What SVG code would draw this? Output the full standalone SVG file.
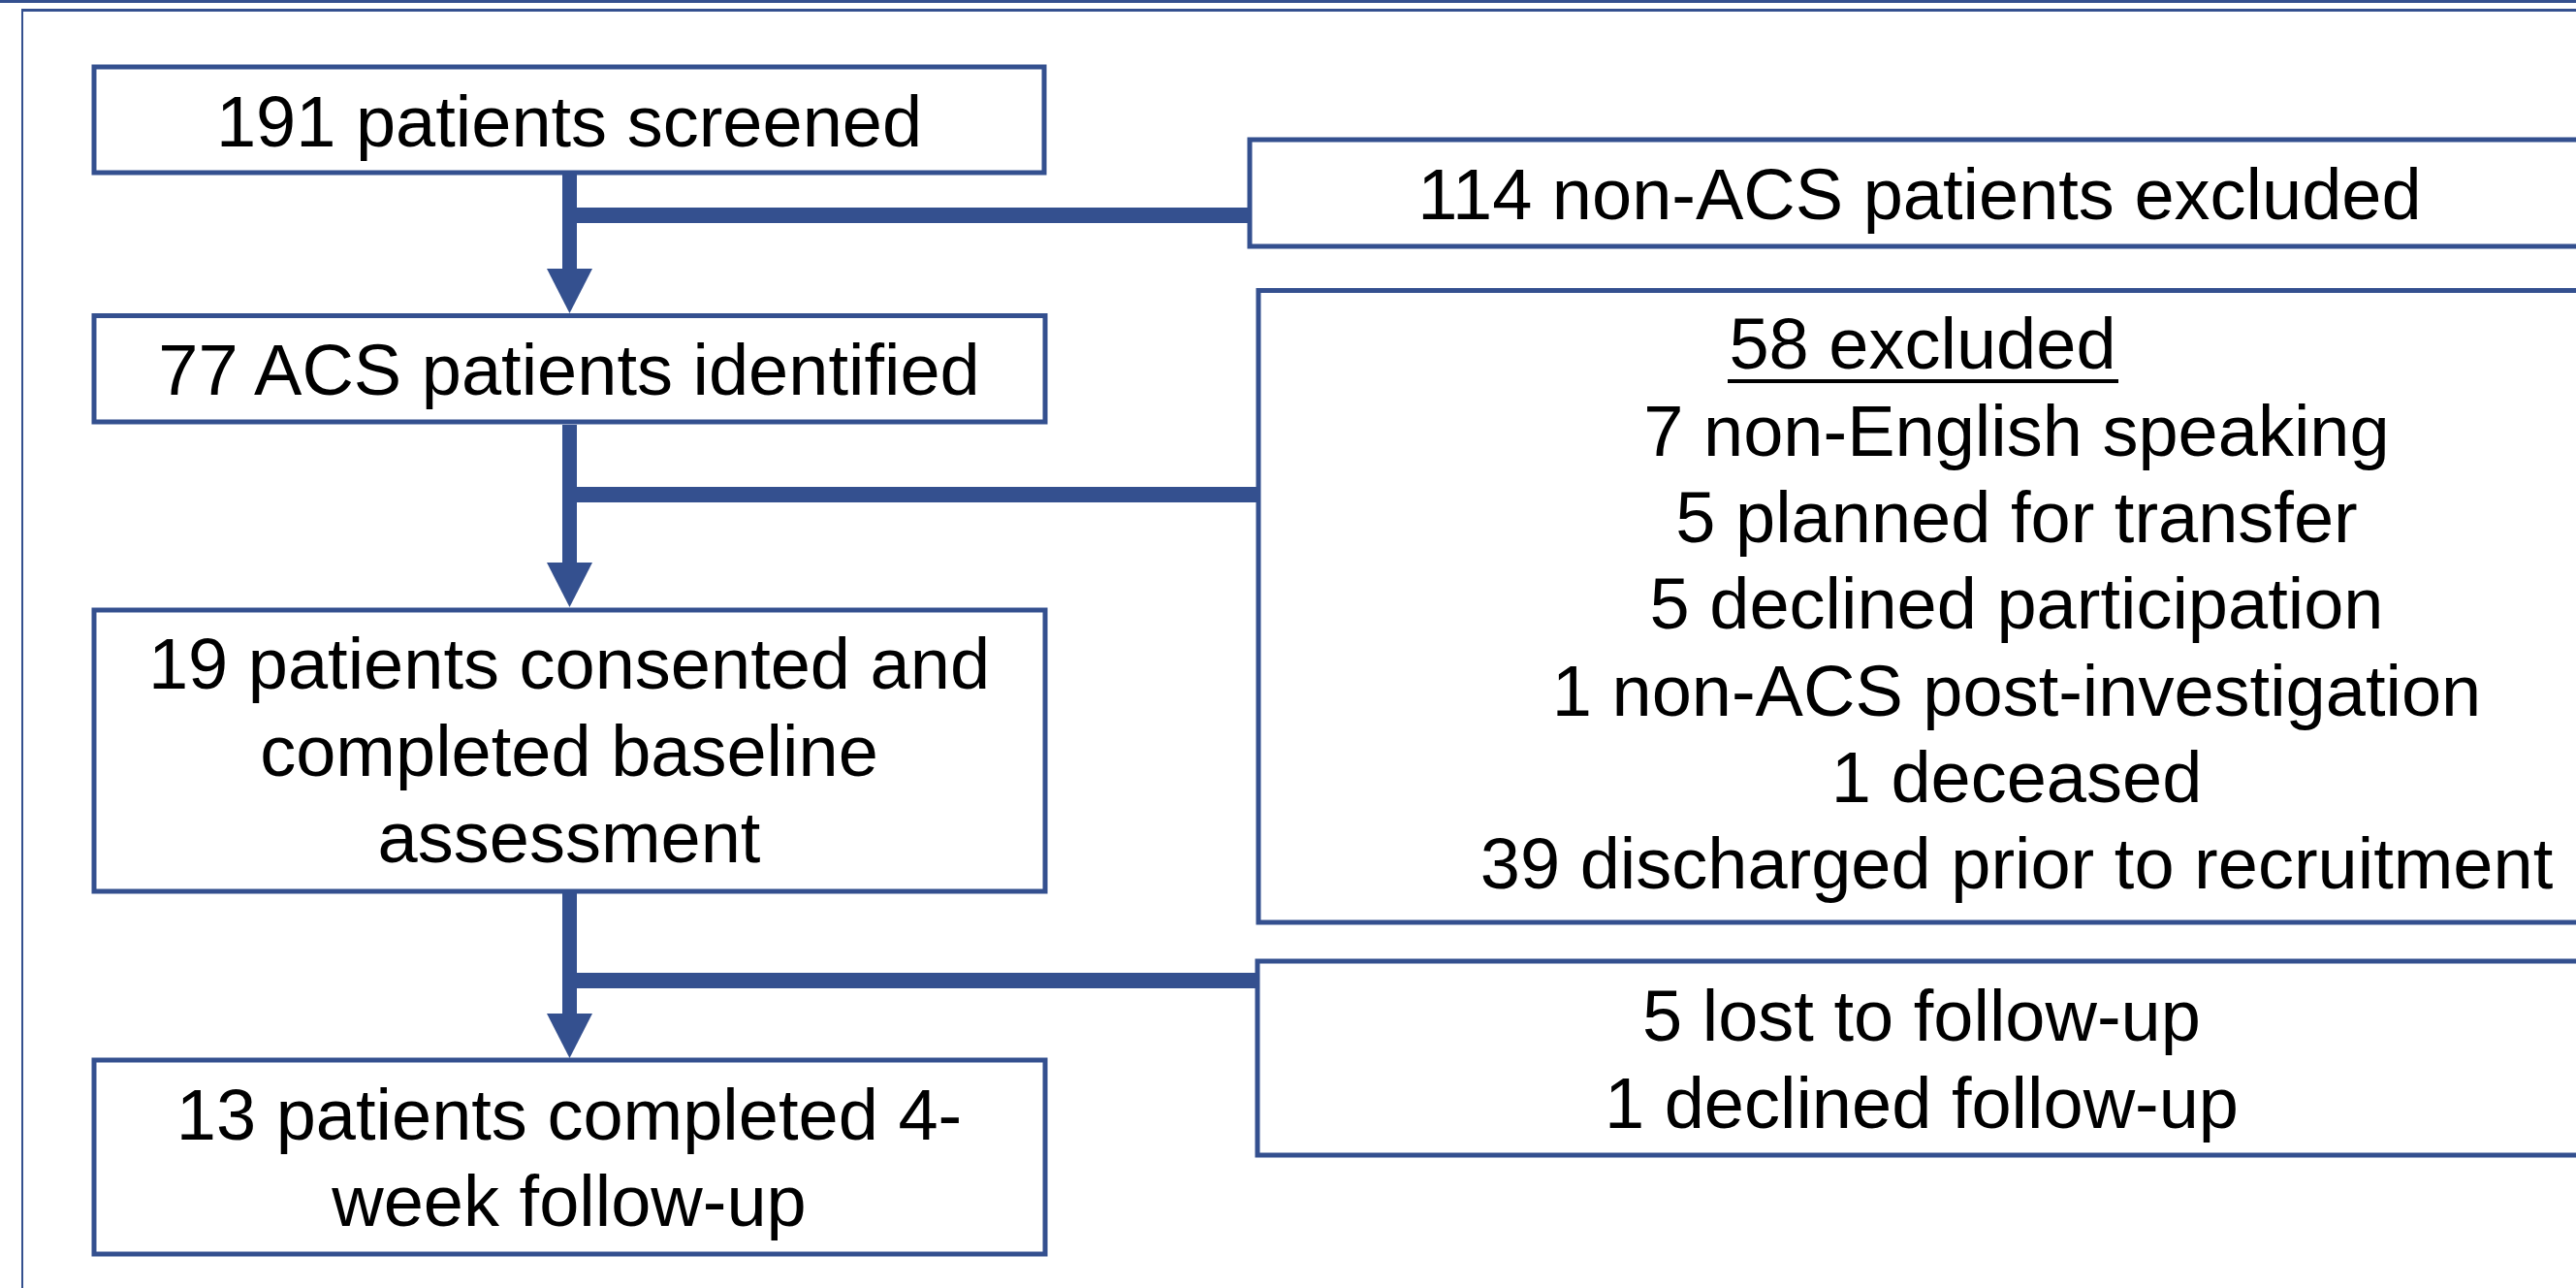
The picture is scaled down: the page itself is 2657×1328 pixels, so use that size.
<svg xmlns="http://www.w3.org/2000/svg" width="2657" height="1328" viewBox="0 0 2657 1328">
<style>
.box{fill:#ffffff;stroke:#34508f;stroke-width:5}
.t{font-family:"Liberation Sans",Arial,sans-serif;font-size:74px;fill:#000000;text-anchor:middle}
.bar{fill:#34508f}
.vl{stroke:#34508f;stroke-width:15}
.head{fill:#34508f}
.frame{stroke:#34508f;fill:none}
</style>
<rect x="0" y="0" width="2657" height="1328" fill="#ffffff"/>
<g id="frame">
<line class="frame" x1="0" y1="1.5" x2="2657" y2="1.5" stroke-width="3"/>
<line class="frame" x1="22" y1="10.5" x2="2657" y2="10.5" stroke-width="3"/>
<line class="frame" x1="23" y1="10" x2="23" y2="1328" stroke-width="2"/>
</g>
<g id="connectors">
<line class="vl" x1="587.5" y1="178" x2="587.5" y2="278"/>
<polygon class="head" points="564,277 611,277 587.5,323"/>
<rect class="bar" x="587" y="214" width="703" height="16"/>
<line class="vl" x1="587.5" y1="438" x2="587.5" y2="581"/>
<polygon class="head" points="564,580 611,580 587.5,626"/>
<rect class="bar" x="587" y="502" width="712" height="16"/>
<line class="vl" x1="587.5" y1="920" x2="587.5" y2="1046"/>
<polygon class="head" points="564,1045 611,1045 587.5,1091"/>
<rect class="bar" x="587" y="1003" width="711" height="16"/>
</g>
<g id="n1">
<rect class="box" x="97" y="69" width="980" height="109"/>
<text class="t" x="587" y="151">191 patients screened</text>
</g>
<g id="n2">
<rect class="box" x="97" y="325.5" width="981" height="109.5"/>
<text class="t" x="587" y="407">77 ACS patients identified</text>
</g>
<g id="n3">
<rect class="box" x="97" y="629" width="981" height="290"/>
<text class="t" x="587" y="710">19 patients consented and</text>
<text class="t" x="587" y="800">completed baseline</text>
<text class="t" x="587" y="889">assessment</text>
</g>
<g id="n4">
<rect class="box" x="97" y="1093" width="981" height="200"/>
<text class="t" x="587" y="1175">13 patients completed 4-</text>
<text class="t" x="587" y="1264">week follow-up</text>
</g>
<g id="e1">
<rect class="box" x="1289" y="144" width="1400" height="110"/>
<text class="t" x="1980" y="226">114 non-ACS patients excluded</text>
</g>
<g id="e2">
<rect class="box" x="1298" y="299.5" width="1400" height="651.5"/>
<text class="t" x="1983" y="380">58 excluded</text>
<rect x="1782" y="391" width="403" height="4" fill="#000000"/>
<text class="t" x="2080" y="470">7 non-English speaking</text>
<text class="t" x="2080" y="559">5 planned for transfer</text>
<text class="t" x="2080" y="648">5 declined participation</text>
<text class="t" x="2080" y="738">1 non-ACS post-investigation</text>
<text class="t" x="2080" y="827">1 deceased</text>
<text class="t" x="2080" y="916">39 discharged prior to recruitment</text>
</g>
<g id="e3">
<rect class="box" x="1297" y="991" width="1400" height="200"/>
<text class="t" x="1982" y="1073">5 lost to follow-up</text>
<text class="t" x="1982" y="1163">1 declined follow-up</text>
</g>
</svg>
